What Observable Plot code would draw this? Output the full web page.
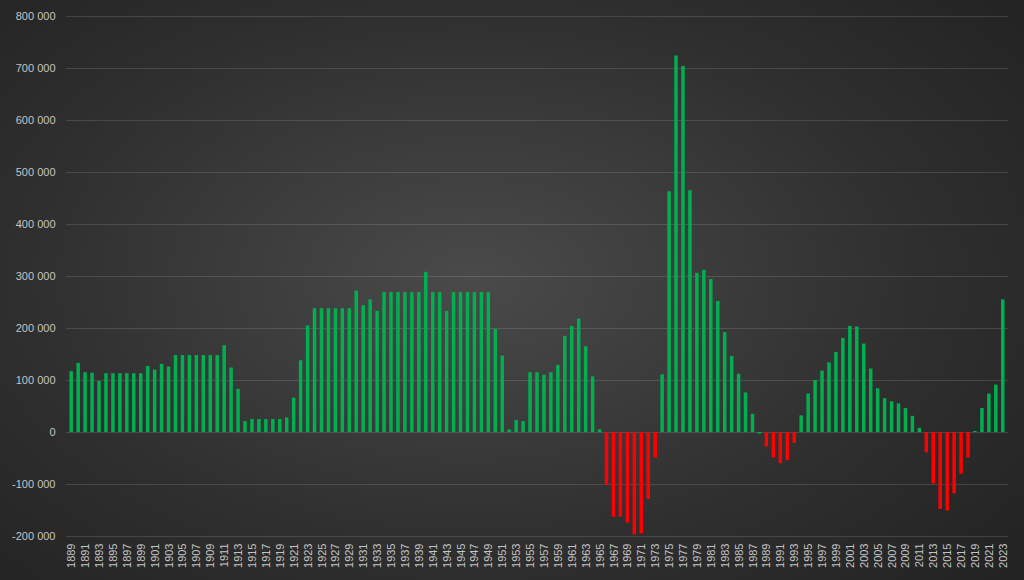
<!DOCTYPE html>
<html>
<head>
<meta charset="utf-8">
<script src="https://cdn.jsdelivr.net/npm/d3@7"></script>
<script src="https://cdn.jsdelivr.net/npm/@observablehq/plot@0.6"></script>
<style>
  html, body { margin: 0; padding: 0; }
  body { width: 1024px; height: 580px; overflow: hidden; }
  #chart {
    width: 1024px; height: 580px;
    background: radial-gradient(ellipse 70% 75% at 46% 48%, #4a4a4a 0%, #3d3d3d 30%, #2f2f2f 62%, #232323 100%);
  }
</style>
</head>
<body>
<div id="chart"></div>
<script>
const startYear = 1889;
const endYear = 2023;
const years = d3.range(startYear, endYear + 1);
const values = [
  117000, 133000, 115000, 114000, 98000, 113000, 113000, 113000, 113000, 113000, // 1889-1898
  113000, 127000, 120000, 131000, 126000, 148000, 148000, 148000, 148000, 148000, // 1899-1908
  148000, 148000, 167000, 124000, 83000, 21000, 25000, 25000, 25000, 25000,       // 1909-1918
  25000, 28000, 66000, 138000, 205000, 238000, 238000, 238000, 238000, 238000,    // 1919-1928
  238000, 272000, 244000, 255000, 233000, 269000, 269000, 269000, 269000, 269000, // 1929-1938
  269000, 308000, 269000, 269000, 233000, 269000, 269000, 269000, 269000, 269000, // 1939-1948
  269000, 198000, 147000, 5000, 23000, 21000, 115000, 115000, 110000, 115000,     // 1949-1958
  129000, 185000, 204000, 218000, 165000, 107000, 5000, -102000, -163000, -163000, // 1959-1968
  -174000, -197000, -195000, -129000, -49000, 111000, 463000, 724000, 704000, 465000, // 1969-1978
  306000, 312000, 294000, 252000, 192000, 146000, 112000, 76000, 35000, -3000,    // 1979-1988
  -28000, -49000, -60000, -54000, -21000, 32000, 74000, 100000, 118000, 134000,   // 1989-1998
  154000, 181000, 204000, 203000, 170000, 122000, 84000, 65000, 59000, 55000,     // 1999-2008
  46000, 31000, 8000, -39000, -99000, -148000, -151000, -118000, -80000, -49000,  // 2009-2018
  2000, 46000, 74000, 91000, 255000                                               // 2019-2023
];
const yTicks = [-200000, -100000, 0, 100000, 200000, 300000, 400000, 500000, 600000, 700000, 800000];
const xTickYears = years.filter(y => y % 2 === 1);

const data = years.map((year, i) => ({year, value: values[i]}));

const locale = d3.formatLocale({decimal: ",", thousands: "\u00a0", grouping: [3], currency: ["", ""], minus: "-"});
const fmt = locale.format(",d");

const chart = Plot.plot({
  width: 1024,
  height: 580,
  marginLeft: 66,
  marginRight: 16,
  marginTop: 16,
  marginBottom: 44,
  style: {background: "transparent", fontFamily: "'Liberation Sans', Arial, sans-serif", fontSize: "11px", color: "#c4c4c4"},
  x: {type: "band", domain: years, padding: 0.5, axis: null},
  y: {domain: [-200000, 800000], label: null, axis: null},
  marks: [
    Plot.ruleY(yTicks, {stroke: "#ffffff", strokeOpacity: 0.13, strokeWidth: 1}),
    Plot.barY(data, {x: "year", y: "value", fill: d => d.value > -5000 ? "#00b050" : "#ff0000"}),
    Plot.axisX({ticks: xTickYears, tickFormat: d => String(d), tickRotate: -90, tickSize: 0, tickPadding: 7, label: null, fill: "#c4c4c4", fontSize: 11}),
    Plot.axisY({ticks: yTicks, tickFormat: fmt, tickSize: 0, tickPadding: 11, label: null, fill: "#c4c4c4", fontSize: 11})
  ]
});
document.getElementById("chart").appendChild(chart);
</script>
</body>
</html>
